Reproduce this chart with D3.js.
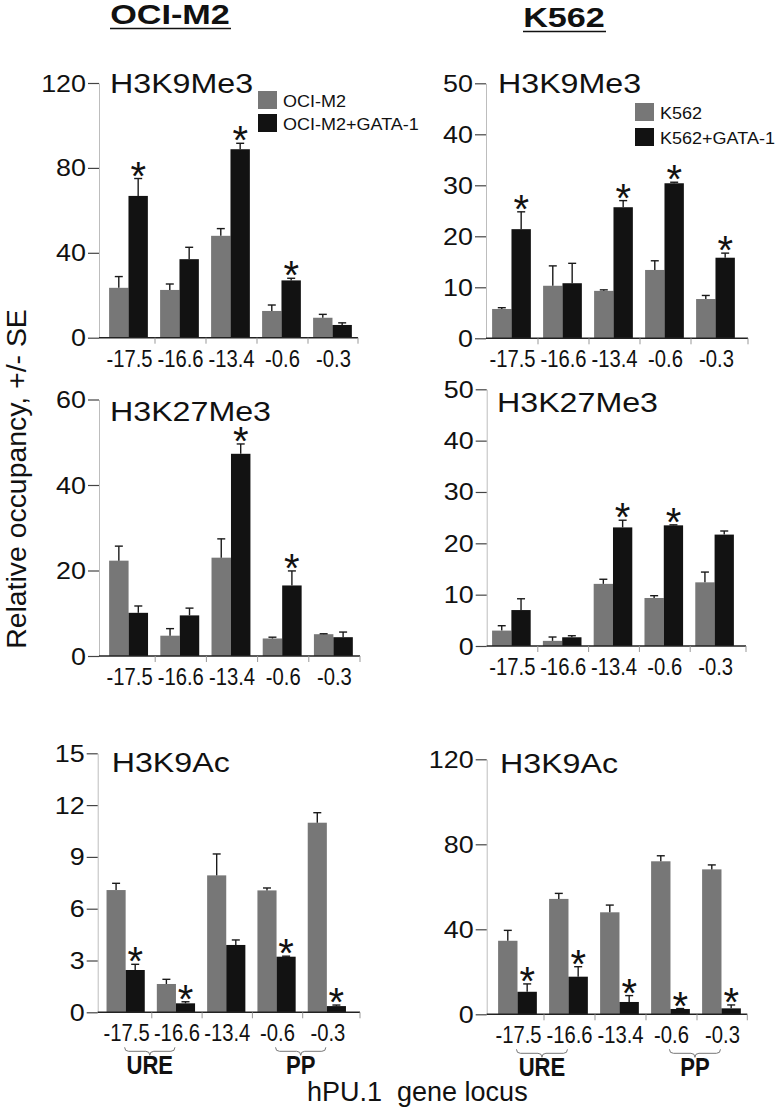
<!DOCTYPE html>
<html>
<head>
<meta charset="utf-8">
<script src="https://cdn.jsdelivr.net/npm/d3@7/dist/d3.min.js"></script>
<style>
	body { margin: 0; background: #fff; }
	svg { display: block; font-family: "Liberation Sans", Arial, sans-serif; }
</style>
</head>
<body>
<div id="chart"></div>
<script>
/* global d3 */
(function() {

	'use strict';

	// categories
	var loci = ["-17.5", "-16.6", "-13.4", "-0.6", "-0.3"];
	var ociSeries = ["OCI-M2", "OCI-M2+GATA-1"];
	var k562Series = ["K562", "K562+GATA-1"];

	// H3K9Me3
	var ociK9me3 = [23.5, 22.5, 48, 12.6, 9.4];
	var ociK9me3Err = [5.3, 2.8, 3.4, 2.8, 1.6];
	var ociK9me3Gata = [66.8, 37, 88.8, 27, 6];
	var ociK9me3GataErr = [8.2, 5.6, 2.8, 1, 1];
	var k562K9me3 = [5.75, 10.3, 9.3, 13.4, 7.7];
	var k562K9me3Err = [0.25, 3.9, 0.2, 1.8, 0.7];
	var k562K9me3Gata = [21.4, 10.8, 25.7, 30.4, 15.8];
	var k562K9me3GataErr = [3.4, 3.9, 1.3, 0.2, 0.9];

	// H3K27Me3
	var ociK27me3 = [22.3, 4.75, 23, 4.1, 5.1];
	var ociK27me3Err = [3.4, 1.65, 4.4, 0.3, 0.1];
	var ociK27me3Gata = [10.1, 9.5, 47.3, 16.5, 4.4];
	var ociK27me3GataErr = [1.6, 1.7, 2.3, 3.4, 1.2];
	var k562K27me3 = [3.0, 1.0, 12.1, 9.35, 12.4];
	var k562K27me3Err = [0.95, 0.75, 0.9, 0.45, 2.0];
	var k562K27me3Gata = [7.0, 1.7, 23.1, 23.5, 21.7];
	var k562K27me3GataErr = [2.2, 0.3, 1.4, 0.1, 0.7];

	// H3K9Ac
	var ociK9ac = [7.08, 1.64, 7.93, 7.06, 10.98];
	var ociK9acErr = [0.39, 0.27, 1.24, 0.14, 0.58];
	var ociK9acGata = [2.45, 0.52, 3.9, 3.22, 0.36];
	var ociK9acGataErr = [0.33, 0.09, 0.29, 0.03, 0.06];
	var k562K9ac = [34.6, 54.3, 48, 72, 68.2];
	var k562K9acErr = [4.9, 2.6, 3.4, 2.6, 2.1];
	var k562K9acGata = [10.6, 17.7, 5.8, 2.5, 2.8];
	var k562K9acGataErr = [3.7, 4.7, 3.0, 0.2, 1.6];

	// significance (*) on the GATA-1 bar
	var ociK9me3Stars = [1, 0, 1, 1, 0];
	var k562K9me3Stars = [1, 0, 1, 1, 1];
	var ociK27me3Stars = [0, 0, 1, 1, 0];
	var k562K27me3Stars = [0, 0, 1, 1, 0];
	var ociK9acStars = [1, 1, 0, 1, 1];
	var k562K9acStars = [1, 1, 1, 1, 1];

	// tick labels
	var ticks120 = [0, 40, 80, 120];
	var ticks50 = [0, 10, 20, 30, 40, 50];
	var ticks60 = [0, 20, 40, 60];
	var ticks15 = [0, 3, 6, 9, 12, 15];

	var regions = [
		{ name: "URE", from: 0, to: 1 },
		{ name: "PP", from: 3, to: 4 }
	];

	var grayColor = "#777777",
		blackColor = "#121212",
		width = 778,
		height = 1109;

	var svg = d3.select("#chart").append("svg")
		.attr("width", width)
		.attr("height", height);

	function stretchText(g, str, x, y, size, sx, anchor, weight) {
		return g.append("text")
			.attr("transform", "translate(" + x + "," + y + ") scale(" + sx + ",1)")
			.attr("text-anchor", anchor || "start")
			.attr("fill", "#111")
			.style("font-size", size + "px")
			.style("font-weight", weight || "normal")
			.text(str);
	}

	function bracePath(a, b, m, t) {
		return "M" + a + "," + t +
			"Q" + a + "," + (t + 4) + " " + (a + 4) + "," + (t + 4) +
			"L" + (m - 4) + "," + (t + 4) +
			"Q" + m + "," + (t + 4) + " " + m + "," + (t + 8) +
			"Q" + m + "," + (t + 4) + " " + (m + 4) + "," + (t + 4) +
			"L" + (b - 4) + "," + (t + 4) +
			"Q" + b + "," + (t + 4) + " " + b + "," + t;
	}

	function barPanel(p) {
		var g = svg.append("g"),
			x = d3.scaleBand().domain(loci).range([p.band0, p.band1]),
			bw = x.bandwidth(),
			inner = d3.scaleBand().domain([0, 1]).range([bw * 0.1, bw * 0.86]),
			y = d3.scaleLinear().domain([0, d3.max(p.ticks)]).range([p.y0, p.y1]),
			bars = [];

		loci.forEach(function(d, i) {
			bars.push({ locus: d, s: 0, v: p.ctrl[i], e: p.ctrlErr[i], star: false });
			bars.push({ locus: d, s: 1, v: p.gata[i], e: p.gataErr[i], star: !!p.stars[i] });
		});

		// y axis: line and ticks from d3, labels drawn below
		var yAxis = g.append("g")
			.attr("transform", "translate(" + p.axisX + ",0)")
			.call(d3.axisLeft(y).tickValues(p.ticks).tickSize(11).tickSizeOuter(0).tickFormat(""));
		yAxis.select(".domain").attr("stroke", "#bdbdbd").attr("stroke-width", 1);
		yAxis.selectAll(".tick line").attr("stroke", "#444").attr("stroke-width", 1.2);
		yAxis.selectAll(".tick text").remove();

		p.ticks.forEach(function(t) {
			stretchText(g, String(t), p.axisX - 13, y(t) + 8.5, 24, 1.12, "end");
		});

		// bars
		g.append("g")
			.selectAll("rect")
			.data(bars)
			.join("rect")
			.attr("x", function(d) { return x(d.locus) + inner(d.s); })
			.attr("y", function(d) { return y(d.v); })
			.attr("width", inner.bandwidth())
			.attr("height", function(d) { return y(0) - y(d.v); })
			.attr("fill", function(d) { return d.s ? blackColor : grayColor; });

		// error bars
		var eb = g.append("g")
			.attr("stroke", "#1a1a1a")
			.attr("stroke-width", 1.4)
			.selectAll("g")
			.data(bars)
			.join("g")
			.attr("transform", function(d) { return "translate(" + (x(d.locus) + inner(d.s) + inner.bandwidth() / 2) + ",0)"; });
		eb.append("line")
			.attr("y1", function(d) { return y(d.v); })
			.attr("y2", function(d) { return y(d.v + d.e); });
		eb.append("line")
			.attr("x1", -4)
			.attr("x2", 4)
			.attr("y1", function(d) { return y(d.v + d.e); })
			.attr("y2", function(d) { return y(d.v + d.e); });

		// stars
		g.append("g")
			.selectAll("text")
			.data(bars.filter(function(d) { return d.star; }))
			.join("text")
			.attr("x", function(d) { return x(d.locus) + inner(d.s) + inner.bandwidth() / 2; })
			.attr("y", function(d) { return y(d.v + d.e) + 11; })
			.attr("text-anchor", "middle")
			.attr("fill", "#111")
			.style("font-size", "40px")
			.text("*");

		// x axis + dividers
		g.append("line")
			.attr("x1", p.axisX)
			.attr("x2", p.axisEnd)
			.attr("y1", y(0))
			.attr("y2", y(0))
			.attr("stroke", "#222")
			.attr("stroke-width", 1.6);
		g.append("g")
			.selectAll("line")
			.data(loci.slice(1).map(function(d) { return x(d); }).concat([p.axisEnd]))
			.join("line")
			.attr("x1", function(d) { return d; })
			.attr("x2", function(d) { return d; })
			.attr("y1", y(0))
			.attr("y2", y(0) + 6)
			.attr("stroke", "#999")
			.attr("stroke-width", 1);

		loci.forEach(function(d) {
			stretchText(g, d, x(d) + bw / 2, y(0) + 29, 23, 0.88, "middle");
		});

		stretchText(g, p.title, p.titleX, p.titleY, 28, 1.15);

		if (p.legend) {
			p.series.forEach(function(name, i) {
				g.append("rect")
					.attr("x", p.legend.x)
					.attr("y", p.legend.y + i * p.legend.step)
					.attr("width", 19)
					.attr("height", 18)
					.attr("fill", i ? blackColor : grayColor);
				stretchText(g, name, p.legend.x + 25, p.legend.y + i * p.legend.step + 16, 17, 1.06);
			});
		}

		if (p.braces) {
			regions.forEach(function(r) {
				var a = x(loci[r.from]) + bw * 0.46,
					b = x(loci[r.to]) + bw * 0.46,
					m = (a + b) / 2;
				g.append("path")
					.attr("d", bracePath(a, b, m, y(0) + 35))
					.attr("fill", "none")
					.attr("stroke", "#777")
					.attr("stroke-width", 1);
				stretchText(g, r.name, m, y(0) + 62, 26, 0.85, "middle", "bold");
			});
		}
	}

	var panels = [
		{ title: "H3K9Me3", series: ociSeries, ctrl: ociK9me3, ctrlErr: ociK9me3Err, gata: ociK9me3Gata, gataErr: ociK9me3GataErr,
			stars: ociK9me3Stars, ticks: ticks120, axisX: 99, axisEnd: 358, band0: 104, band1: 359, y0: 337.7, y1: 83,
			titleX: 110, titleY: 93, legend: { x: 258, y: 91, step: 23 } },
		{ title: "H3K9Me3", series: k562Series, ctrl: k562K9me3, ctrlErr: k562K9me3Err, gata: k562K9me3Gata, gataErr: k562K9me3GataErr,
			stars: k562K9me3Stars, ticks: ticks50, axisX: 486, axisEnd: 748, band0: 487, band1: 742, y0: 338.3, y1: 83.3,
			titleX: 498, titleY: 93, legend: { x: 635, y: 103, step: 25 } },
		{ title: "H3K27Me3", series: ociSeries, ctrl: ociK27me3, ctrlErr: ociK27me3Err, gata: ociK27me3Gata, gataErr: ociK27me3GataErr,
			stars: ociK27me3Stars, ticks: ticks60, axisX: 99, axisEnd: 360, band0: 104, band1: 360, y0: 656, y1: 399.5,
			titleX: 110, titleY: 420.7 },
		{ title: "H3K27Me3", series: k562Series, ctrl: k562K27me3, ctrlErr: k562K27me3Err, gata: k562K27me3Gata, gataErr: k562K27me3GataErr,
			stars: k562K27me3Stars, ticks: ticks50, axisX: 486.7, axisEnd: 746, band0: 487, band1: 741, y0: 646, y1: 389.3,
			titleX: 497, titleY: 411.7 },
		{ title: "H3K9Ac", series: ociSeries, ctrl: ociK9ac, ctrlErr: ociK9acErr, gata: ociK9acGata, gataErr: ociK9acGataErr,
			stars: ociK9acStars, ticks: ticks15, axisX: 97.7, axisEnd: 360, band0: 101.5, band1: 353, y0: 1012.3, y1: 753.3,
			titleX: 111.7, titleY: 771.7, braces: true },
		{ title: "H3K9Ac", series: k562Series, ctrl: k562K9ac, ctrlErr: k562K9acErr, gata: k562K9acGata, gataErr: k562K9acGataErr,
			stars: k562K9acStars, ticks: ticks120, axisX: 486.7, axisEnd: 747.3, band0: 493, band1: 748, y0: 1014.3, y1: 759.3,
			titleX: 500, titleY: 773, braces: true }
	];

	panels.forEach(barPanel);

	// column headers
	var head = svg.append("g");
	stretchText(head, "OCI-M2", 170, 24, 28.5, 1.2, "middle", "bold");
	stretchText(head, "K562", 564, 26.5, 28.5, 1.2, "middle", "bold");
	head.append("line").attr("x1", 110).attr("x2", 231).attr("y1", 28.5).attr("y2", 28.5)
		.attr("stroke", "#111").attr("stroke-width", 1.6);
	head.append("line").attr("x1", 523).attr("x2", 606).attr("y1", 31.5).attr("y2", 31.5)
		.attr("stroke", "#111").attr("stroke-width", 1.6);

	// shared axis titles
	svg.append("text")
		.attr("transform", "translate(25.5,479) rotate(-90)")
		.attr("text-anchor", "middle")
		.attr("fill", "#111")
		.style("font-size", "28.4px")
		.text("Relative occupancy, +/- SE");

	svg.append("text")
		.attr("x", 307)
		.attr("y", 1101)
		.attr("fill", "#111")
		.style("font-size", "27px")
		.style("white-space", "pre")
		.text("hPU.1  gene locus");

})();
</script>
</body>
</html>
